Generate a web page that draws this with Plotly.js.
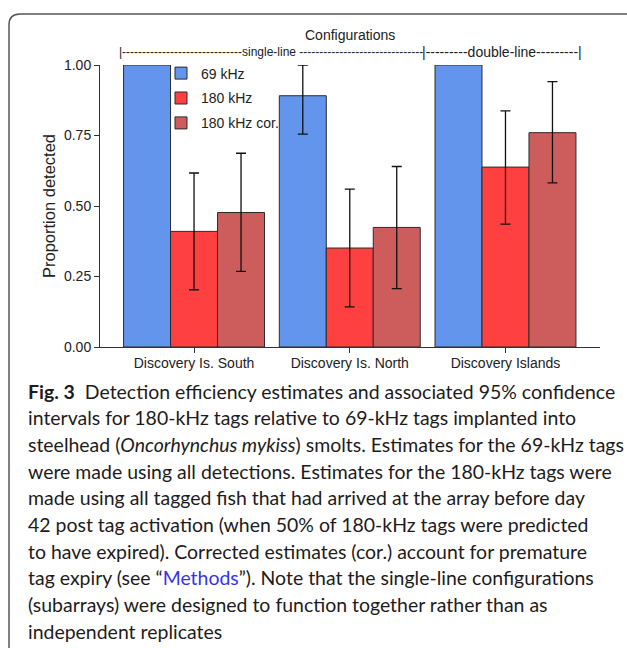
<!DOCTYPE html>
<html>
<head>
<meta charset="utf-8">
<script src="https://cdn.plot.ly/plotly-3.0.1.min.js"></script>
<style>
  html, body { margin: 0; padding: 0; background: #fff; }
  #chart { width: 627px; height: 648px; }
</style>
</head>
<body>
<div id="chart"></div>
<script>
// ---- data ----
const categories = ['Discovery Is. South', 'Discovery Is. North', 'Discovery Islands'];
const seriesNames = ['69 kHz', '180 kHz', '180 kHz cor.'];
const est69  = [1.00, 0.891, 1.00];
const up69   = [null, 1.00, null];
const lo69   = [null, 0.755, null];
const est180 = [0.410, 0.351, 0.638];
const up180  = [0.617, 0.560, 0.837];
const lo180  = [0.203, 0.142, 0.436];
const estCor = [0.477, 0.424, 0.760];
const upCor  = [0.687, 0.640, 0.941];
const loCor  = [0.268, 0.207, 0.582];
const yTickVals = [0, 0.25, 0.5, 0.75, 1.0];
const yTickText = ['0.00', '0.25', '0.50', '0.75', '1.00'];
const captionLines = [
  '<b>Fig. 3</b>\u00a0\u00a0Detection efficiency estimates and associated 95% confidence',
  'intervals for 180-kHz tags relative to 69-kHz tags implanted into',
  'steelhead (<i>Oncorhynchus mykiss</i>) smolts. Estimates for the 69-kHz tags',
  'were made using all detections. Estimates for the 180-kHz tags were',
  'made using all tagged fish that had arrived at the array before day',
  '42 post tag activation (when 50% of 180-kHz tags were predicted',
  'to have expired). Corrected estimates (cor.) account for premature',
  'tag expiry (see \u201c<span style="color:#3535e8">Methods</span>\u201d). Note that the single-line configurations',
  '(subarrays) were designed to function together rather than as',
  'independent replicates'
];

// ---- geometry helpers (pixel -> paper) ----
const M = {l: 100, r: 27, t: 65, b: 301};
const W = 627, H = 648;
const PW = W - M.l - M.r, PH = H - M.t - M.b;
const X = px => (px - M.l) / PW;
const Y = py => (H - M.b - py) / PH;

const baseFont = 'Liberation Sans, Arial, sans-serif';
const capFont = 'Lato, "Open Sans", sans-serif';

function errArr(up, est) { return up.map((u, i) => u == null ? NaN : u - est[i]); }
function errMinus(lo, est) { return lo.map((l, i) => l == null ? NaN : est[i] - l); }

function barTrace(name, est, up, lo, color) {
  return {
    type: 'bar', name: name, x: categories, y: est,
    marker: {color: color, line: {color: '#2b2b2b', width: 1}},
    error_y: {type: 'data', symmetric: false, array: errArr(up, est), arrayminus: errMinus(lo, est),
              color: '#111', thickness: 1.3, width: 5},
    legendgroup: name, hoverinfo: 'skip'
  };
}

const traces = [
  barTrace(seriesNames[0], est69, up69, lo69, '#6495ED'),
  barTrace(seriesNames[1], est180, up180, lo180, '#FF4040'),
  barTrace(seriesNames[2], estCor, upCor, loCor, '#CD5C5C')
];

// fit caption font size so first line spans ~588px
function fitCaption() {
  const c = document.createElement('canvas').getContext('2d');
  const base = 20;
  c.font = 'bold ' + base + 'px Lato';
  let w = c.measureText('Fig. 3').width;
  c.font = base + 'px Lato';
  w += c.measureText('\u00a0\u00a0Detection efficiency estimates and associated 95% confidence').width;
  return base * 588 / w;
}
const capSize = fitCaption();

const annotations = [
  {text: 'Configurations', x: X(350), y: Y(35.5), xref: 'paper', yref: 'paper', showarrow: false,
   xanchor: 'center', yanchor: 'middle', font: {family: baseFont, size: 14, color: '#222'}},
  {text: '|' + '-'.repeat(30) + 'single-line ' + '-'.repeat(31), x: X(117), y: Y(52), xref: 'paper', yref: 'paper',
   showarrow: false, xanchor: 'left', yanchor: 'middle', font: {family: baseFont, size: 12, color: '#222'}},
  {text: '|' + '-'.repeat(9) + 'double-line' + '-'.repeat(9) + '|', x: X(420), y: Y(52), xref: 'paper', yref: 'paper',
   showarrow: false, xanchor: 'left', yanchor: 'middle', font: {family: baseFont, size: 14, color: '#222'}}
];
captionLines.forEach((t, i) => {
  annotations.push({text: t, x: X(26), y: Y(391 + i * 26.67), xref: 'paper', yref: 'paper',
    showarrow: false, xanchor: 'left', yanchor: 'middle', align: 'left',
    font: {family: capFont, size: capSize, color: '#1d1b1c'}});
});

const layout = {
  width: W, height: H,
  margin: M,
  paper_bgcolor: '#fff', plot_bgcolor: '#fff',
  font: {family: baseFont, color: '#222'},
  barmode: 'group', bargap: 0.095, bargroupgap: 0,
  showlegend: true,
  legend: {x: X(161), y: Y(57.5), xanchor: 'left', yanchor: 'top', bgcolor: 'rgba(0,0,0,0)',
           font: {family: baseFont, size: 14, color: '#222'}, tracegroupgap: 3.7, traceorder: 'grouped',
           itemwidth: 30},
  xaxis: {type: 'category', range: [-0.604, 2.607], showline: true, linecolor: '#333', linewidth: 1,
          ticks: 'outside', ticklen: 5, tickcolor: '#333', showgrid: false, zeroline: false,
          ticklabelstandoff: -2,
          tickfont: {family: baseFont, size: 14, color: '#222'}},
  yaxis: {range: [0, 1], tickvals: yTickVals, ticktext: yTickText, showline: true, linecolor: '#333', linewidth: 1,
          ticks: 'outside', ticklen: 5, tickcolor: '#333', showgrid: false, zeroline: false,
          tickfont: {family: baseFont, size: 14, color: '#222'},
          title: {text: 'Proportion detected', standoff: 4, font: {family: baseFont, size: 16.5, color: '#222'}}},
  annotations: annotations,
  shapes: [{type: 'path', xref: 'paper', yref: 'paper',
            path: 'M ' + X(9) + ',' + Y(700) + ' L ' + X(9) + ',' + Y(25) + ' Q ' + X(9) + ',' + Y(14) + ' ' + X(20) + ',' + Y(14) + ' L ' + X(700) + ',' + Y(14),
            line: {color: '#555', width: 1.5}}]
};

Plotly.newPlot('chart', traces, layout, {staticPlot: true, displayModeBar: false});
</script>
</body>
</html>
